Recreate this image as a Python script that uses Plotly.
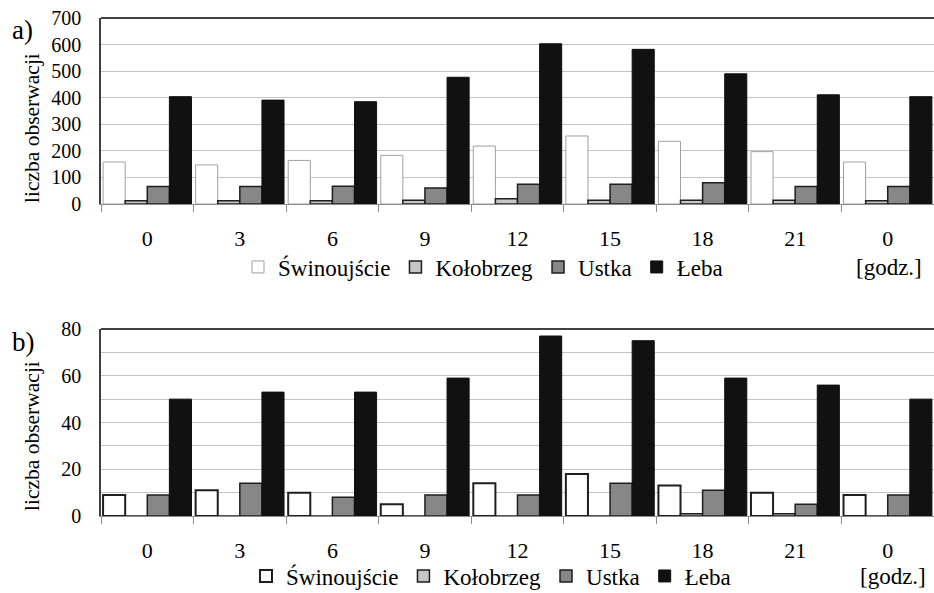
import plotly.graph_objects as go

# Hour of observation (category labels, the day wraps back to 0)
hours = ["0", "3", "6", "9", "12", "15", "18", "21", "0"]
stations = ["Świnoujście", "Kołobrzeg", "Ustka", "Łeba"]

# a) number of observations
a_swinoujscie = [158, 147, 164, 183, 218, 256, 236, 197, 158]
a_kolobrzeg = [12, 12, 12, 14, 20, 14, 14, 14, 12]
a_ustka = [66, 66, 67, 60, 74, 74, 80, 66, 66]
a_leba = [404, 391, 385, 477, 603, 582, 490, 411, 404]

# b) number of observations
b_swinoujscie = [9, 11, 10, 5, 14, 18, 13, 10, 9]
b_kolobrzeg = [0, 0, 0, 0, 0, 0, 1, 1, 0]
b_ustka = [9, 14, 8, 9, 9, 14, 11, 5, 9]
b_leba = [50, 53, 53, 59, 77, 75, 59, 56, 50]

W, H = 934, 593
ML, MR, MT, MB = 101, 0, 18, 77
PW, PH = W - ML - MR, H - MT - MB
FONT = "Liberation Serif"
DARK = "#1e1e1e"


def px_x(x):
    return (x - ML) / PW


def px_y(y):
    return (H - MB - y) / PH


xpos = list(range(len(hours)))

styles_a = [
    dict(color="#ffffff", line=dict(color="#a0a0a0", width=1)),
    dict(color="#c6c6c6", line=dict(color=DARK, width=1.5)),
    dict(color="#878787", line=dict(color=DARK, width=1.5)),
    dict(color="#111111", line=dict(color="#111111", width=1)),
]
styles_b = [
    dict(color="#ffffff", line=dict(color=DARK, width=2)),
    dict(color="#c6c6c6", line=dict(color=DARK, width=1.5)),
    dict(color="#878787", line=dict(color=DARK, width=1.5)),
    dict(color="#111111", line=dict(color="#111111", width=1)),
]

fig = go.Figure()
for name, vals, st in zip(stations, [a_swinoujscie, a_kolobrzeg, a_ustka, a_leba], styles_a):
    fig.add_trace(go.Bar(x=xpos, y=vals, name=name, marker=st,
                         xaxis="x", yaxis="y", legend="legend"))
for name, vals, st in zip(stations, [b_swinoujscie, b_kolobrzeg, b_ustka, b_leba], styles_b):
    fig.add_trace(go.Bar(x=xpos, y=vals, name=name, marker=st,
                         xaxis="x2", yaxis="y2", legend="legend2"))

top_dom = [px_y(204), 1.0]
bot_dom = [0.0, px_y(329)]

xaxis_common = dict(
    range=[-0.5, len(hours) - 0.5],
    tickmode="array", tickvals=xpos, ticktext=hours,
    ticks="", showgrid=False, zeroline=False,
    showline=True, linecolor="#8c8c8c", linewidth=1,
    minor=dict(tickmode="array", tickvals=[i - 0.5 for i in range(len(hours) + 1)],
               ticks="outside", ticklen=7, tickcolor="#8c8c8c", tickwidth=1),
    tickfont=dict(family=FONT, size=22, color="black"),
    ticklabelstandoff=15,
    fixedrange=True,
)
yaxis_common = dict(
    ticks="", zeroline=False,
    showline=True, linecolor="#404040", linewidth=1.5,
    showgrid=True, gridcolor="#c4c4c4", gridwidth=1,
    tickfont=dict(family=FONT, size=20, color="black"),
    ticklabelstandoff=14,
)

fig.update_layout(
    width=W, height=H,
    margin=dict(l=ML, r=MR, t=MT, b=MB, autoexpand=False),
    paper_bgcolor="white", plot_bgcolor="white",
    barmode="group", bargap=0.045, bargroupgap=0,
    font=dict(family=FONT, color="black"),
    xaxis=dict(anchor="y", **xaxis_common),
    xaxis2=dict(anchor="y2", **xaxis_common),
    yaxis=dict(domain=top_dom, anchor="x", range=[0, 700], dtick=100, **yaxis_common),
    yaxis2=dict(domain=bot_dom, anchor="x2", range=[0, 80], dtick=20,
                minor=dict(dtick=10, showgrid=True, gridcolor="#c4c4c4", gridwidth=1),
                **yaxis_common),
    legend=dict(orientation="h", x=px_x(238), xanchor="left", y=px_y(267), yanchor="middle",
                font=dict(family=FONT, size=23, color="black"), bgcolor="rgba(0,0,0,0)",
                itemwidth=30, itemclick=False),
    legend2=dict(orientation="h", x=px_x(246), xanchor="left", y=px_y(576), yanchor="middle",
                 font=dict(family=FONT, size=23, color="black"), bgcolor="rgba(0,0,0,0)",
                 itemwidth=30, itemclick=False),
    shapes=[
        dict(type="line", xref="x domain", yref="y domain", x0=0, x1=1, y0=1, y1=1,
             line=dict(color="#404040", width=2)),
        dict(type="line", xref="x2 domain", yref="y2 domain", x0=0, x1=1, y0=1, y1=1,
             line=dict(color="#404040", width=2)),
    ],
    annotations=[
        dict(text="a)", x=px_x(10), y=px_y(30), xref="paper", yref="paper",
             xanchor="left", yanchor="middle", showarrow=False, font=dict(size=27)),
        dict(text="b)", x=px_x(10), y=px_y(342), xref="paper", yref="paper",
             xanchor="left", yanchor="middle", showarrow=False, font=dict(size=27)),
        dict(text="liczba obserwacji", x=px_x(32), y=px_y(128), xref="paper", yref="paper",
             textangle=-90, xanchor="center", yanchor="middle", showarrow=False,
             font=dict(size=21.5)),
        dict(text="liczba obserwacji", x=px_x(32), y=px_y(436), xref="paper", yref="paper",
             textangle=-90, xanchor="center", yanchor="middle", showarrow=False,
             font=dict(size=21.5)),
        dict(text="[godz.]", x=px_x(889), y=px_y(267), xref="paper", yref="paper",
             xanchor="center", yanchor="middle", showarrow=False, font=dict(size=23)),
        dict(text="[godz.]", x=px_x(893), y=px_y(576), xref="paper", yref="paper",
             xanchor="center", yanchor="middle", showarrow=False, font=dict(size=23)),
    ],
)

fig.write_html("out.html")
